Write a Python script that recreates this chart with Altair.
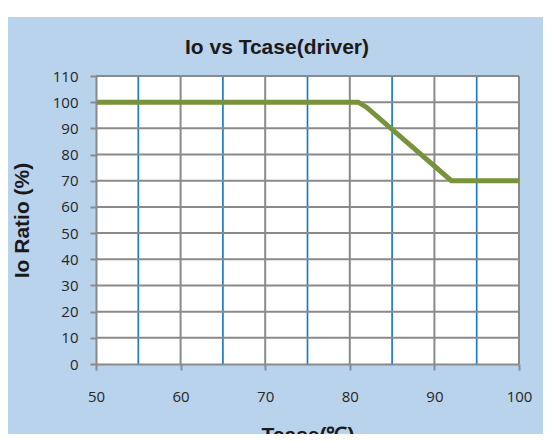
import altair as alt
import pandas as pd

# ---- data ----
temps = [50, 81, 82, 92, 100]          # Tcase (°C)
ratios = [100, 100, 98, 70, 70]        # Io ratio (%)

x_ticks = [50, 60, 70, 80, 90, 100]
y_ticks = [0, 10, 20, 30, 40, 50, 60, 70, 80, 90, 100, 110]
gray_x = [60, 70, 80, 90, 100]
blue_x = [55, 65, 75, 85, 95]
gray_y = [10, 20, 30, 40, 50, 60, 70, 80, 90, 100, 110]

TITLE = "Io vs Tcase(driver)"
X_TITLE = "Tcase(℃)"
Y_TITLE = "Io Ratio (%)"

# ---- styles ----
W, H = 423, 288
BLUE_BG = "#b9d3ed"
GRAY = "#8a8a8a"
BLUE_GRID = "#1a7cc9"
GREEN = "#77933c"
TXT = "#262626"

line_df = pd.DataFrame({"t": temps, "r": ratios})
gx_df = pd.DataFrame({"t": gray_x})
bx_df = pd.DataFrame({"t": blue_x})
gy_df = pd.DataFrame({"r": gray_y})
one = pd.DataFrame({"a": [0]})

xscale = alt.Scale(domain=[50, 100], nice=False, zero=False)
yscale = alt.Scale(domain=[0, 110], nice=False, zero=True)

x_axis = alt.Axis(
    values=x_ticks, grid=False, format="d",
    domainColor=GRAY, domainWidth=2, tickColor=GRAY, tickWidth=2, tickSize=6,
    labelFont="Open Sans", labelFontSize=15, labelColor=TXT, labelPadding=19,
    labelFlush=False,
    title=X_TITLE, titleFont="Liberation Sans", titleFontSize=21,
    titleFontWeight="bold", titleColor="#1a1a1a", titleX=W / 2, titleY=77,
    titleAlign="center", titleBaseline="alphabetic", zindex=1,
)
y_axis = alt.Axis(
    values=y_ticks, grid=False, format="d",
    domainColor=GRAY, domainWidth=2, tickColor=GRAY, tickWidth=2, tickSize=6,
    labelFont="Open Sans", labelFontSize=15, labelColor=TXT, labelPadding=12,
    title=Y_TITLE, titleFont="Liberation Sans", titleFontSize=21,
    titleFontWeight="bold", titleColor="#1a1a1a", titleX=-68, titleY=H / 2,
    titleAngle=270, titleAlign="center", titleBaseline="alphabetic", zindex=1,
)

X = alt.X("t:Q", scale=xscale, axis=x_axis)
Y = alt.Y("r:Q", scale=yscale, axis=y_axis)

bg = alt.Chart(one).mark_rect(color=BLUE_BG).encode(
    x=alt.value(-88), x2=alt.value(W + 40), y=alt.value(-59), y2=alt.value(H + 90)
)
plot_bg = alt.Chart(one).mark_rect(color="white").encode(
    x=alt.value(0), x2=alt.value(W), y=alt.value(0), y2=alt.value(H)
)
grid_vx = alt.Chart(gx_df).mark_rule(color=GRAY, strokeWidth=2).encode(x=X)
grid_bx = alt.Chart(bx_df).mark_rule(color=BLUE_GRID, strokeWidth=1.7).encode(x=X)
grid_hy = alt.Chart(gy_df).mark_rule(color=GRAY, strokeWidth=2).encode(y=Y)
line = alt.Chart(line_df).mark_line(color=GREEN, strokeWidth=5, strokeCap="butt").encode(
    x=X, y=Y
)
title = alt.Chart(one).mark_text(
    text=TITLE, font="Liberation Sans", fontSize=21, fontWeight="bold",
    color="#1a1a1a", align="center", baseline="alphabetic"
).encode(x=alt.value(181), y=alt.value(-22))

chart = alt.layer(bg, plot_bg, grid_vx, grid_bx, grid_hy, line, title).properties(
    width=W, height=H,
    autosize=alt.AutoSizeParams(type="none"),
    padding={"left": 88, "top": 68, "right": 24, "bottom": 70},
).configure_view(stroke=None, fill="white").configure(background="white")

chart.save("out.html", embed_options={"renderer": "svg", "actions": False})
